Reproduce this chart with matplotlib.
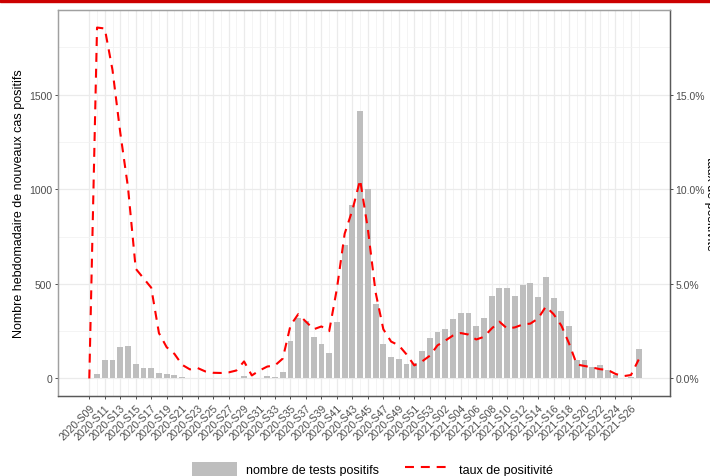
import matplotlib
matplotlib.use("Agg")
import matplotlib.pyplot as plt
from matplotlib.patches import Rectangle
from matplotlib.ticker import FixedLocator, FuncFormatter
import numpy as np

plt.rcParams['font.family'] = ['Liberation Sans', 'DejaVu Sans']

# ---- data ----
weeks = ["2020-S%02d" % w for w in range(9, 54)] + ["2021-S%02d" % w for w in range(1, 28)]
cas_positifs = [0, 21, 97, 97, 168, 171, 75, 53, 54, 28,
                23, 18, 8, 3, 2, 1, 1, 2, 1, 3,
                14, 2, 2, 14, 10, 35, 197, 317, 306, 218,
                181, 137, 299, 704, 915, 1413, 999, 394, 180, 111,
                105, 74, 84, 147, 215, 244, 259, 313, 347, 344,
                275, 321, 434, 479, 479, 435, 492, 502, 433, 534,
                426, 357, 275, 96, 96, 60, 70, 43, 16, 5,
                8, 158]
taux_positivite = [0.0, 18.55, 18.5, 16.3, 13.0, 10.1, 5.8, 5.3, 4.8, 2.4,
                   1.65, 1.3, 0.72, 0.48, 0.55, 0.37, 0.3, 0.29, 0.32, 0.42,
                   0.9, 0.16, 0.42, 0.63, 0.69, 1.05, 2.8, 3.4, 3.0, 2.6,
                   2.75, 2.5, 4.75, 7.65, 8.9, 10.5, 7.9, 4.55, 2.6, 1.95,
                   1.75, 1.27, 0.69, 0.9, 1.2, 1.75, 2.0, 2.27, 2.4, 2.32,
                   2.06, 2.2, 2.64, 3.0, 2.64, 2.7, 2.85, 2.9, 3.17, 3.8,
                   3.4, 2.8, 1.85, 0.74, 0.66, 0.58, 0.49, 0.45, 0.24, 0.12,
                   0.18, 1.0]
left_ticks = [0, 500, 1000, 1500]
right_ticks = [0, 5, 10, 15]
scale = 100.0  # 1% <-> 100 cas

W, H = 710, 477
fig = plt.figure(figsize=(W / 100, H / 100), dpi=100)
ax = fig.add_axes([58 / W, (H - 397) / H, 612 / W, 386 / H])

x = np.arange(len(weeks))
bar_w = 0.76
bars = ax.bar(x, cas_positifs, width=bar_w, color='#BEBEBE', zorder=2,
              label='nombre de tests positifs')

# limits (ggplot-like expansion)
ymax = max(max(cas_positifs), max(taux_positivite) * scale)
ymin = 0
pad = 0.05 * (ymax - ymin)
ax.set_ylim(ymin - pad, ymax + pad)
xl0, xl1 = -0.45, len(weeks) - 1 + 0.45
xpad = 0.05 * (xl1 - xl0)
ax.set_xlim(xl0 - xpad, xl1 + xpad)

# grid
ax.set_axisbelow(True)
ax.yaxis.set_major_locator(FixedLocator(left_ticks))
ax.yaxis.set_minor_locator(FixedLocator([250, 750, 1250, 1750]))
ax.xaxis.set_major_locator(FixedLocator(x[::2]))
ax.xaxis.set_minor_locator(FixedLocator(x[1::2]))
ax.grid(which='major', color='#EBEBEB', linewidth=0.9, zorder=0)
ax.grid(which='minor', color='#F2F2F2', linewidth=0.6, zorder=0)
ax.set_xticklabels([weeks[i] for i in x[::2]], rotation=45, ha='right',
                   rotation_mode='anchor', va='top')

ax.tick_params(axis='both', which='major', labelsize=7.5, labelcolor='#4D4D4D',
               color='#333333', length=2.3, width=0.6, pad=1.8)
ax.tick_params(axis='both', which='minor', length=0)
ax.tick_params(axis='x', pad=2.5)

# secondary axis
ax2 = ax.twinx()
ax2.set_ylim((ymin - pad) / scale, (ymax + pad) / scale)
line, = ax2.plot(x, taux_positivite, color='#FF0000', linewidth=1.5,
                 linestyle=(0, (4.3, 3.3)), zorder=3, label='taux de positivité')
ax2.yaxis.set_major_locator(FixedLocator(right_ticks))
ax2.yaxis.set_major_formatter(FuncFormatter(lambda v, p: "%.1f%%" % v))
ax2.tick_params(axis='y', labelsize=7.5, labelcolor='#4D4D4D', color='#333333',
                length=2.3, width=0.6, pad=1.8)

for a in (ax, ax2):
    a.spines['top'].set_color('#A0A0A0')
    a.spines['left'].set_color('#A0A0A0')
    a.spines['bottom'].set_color('#595959')
    a.spines['right'].set_color('#595959')
    for s in a.spines.values():
        s.set_linewidth(0.9)

# axis titles
fig.text(19 / W, 1 - 204 / H, 'Nombre hebdomadaire de nouveaux cas positifs',
         rotation=90, ha='center', va='center', fontsize=9, color='black')
fig.text(704.5 / W, 1 - 204 / H, 'taux de positivité', rotation=-90,
         ha='left', va='center', fontsize=9, color='black')

# legend at bottom
fig.legend(handles=[bars, line], labels=['nombre de tests positifs', 'taux de positivité'],
           loc='center left', bbox_to_anchor=(192 / W, 1 - 470 / H), ncol=2,
           frameon=False, fontsize=9, handlelength=3.6, handleheight=1.4,
           handletextpad=0.7, columnspacing=2.1, borderaxespad=0, borderpad=0)

# red top band
fig.patches.append(Rectangle((0, 1 - 3 / H), 1, 3 / H, transform=fig.transFigure,
                             color='#CC0000', zorder=10))

fig.savefig('out.png', dpi=100)
